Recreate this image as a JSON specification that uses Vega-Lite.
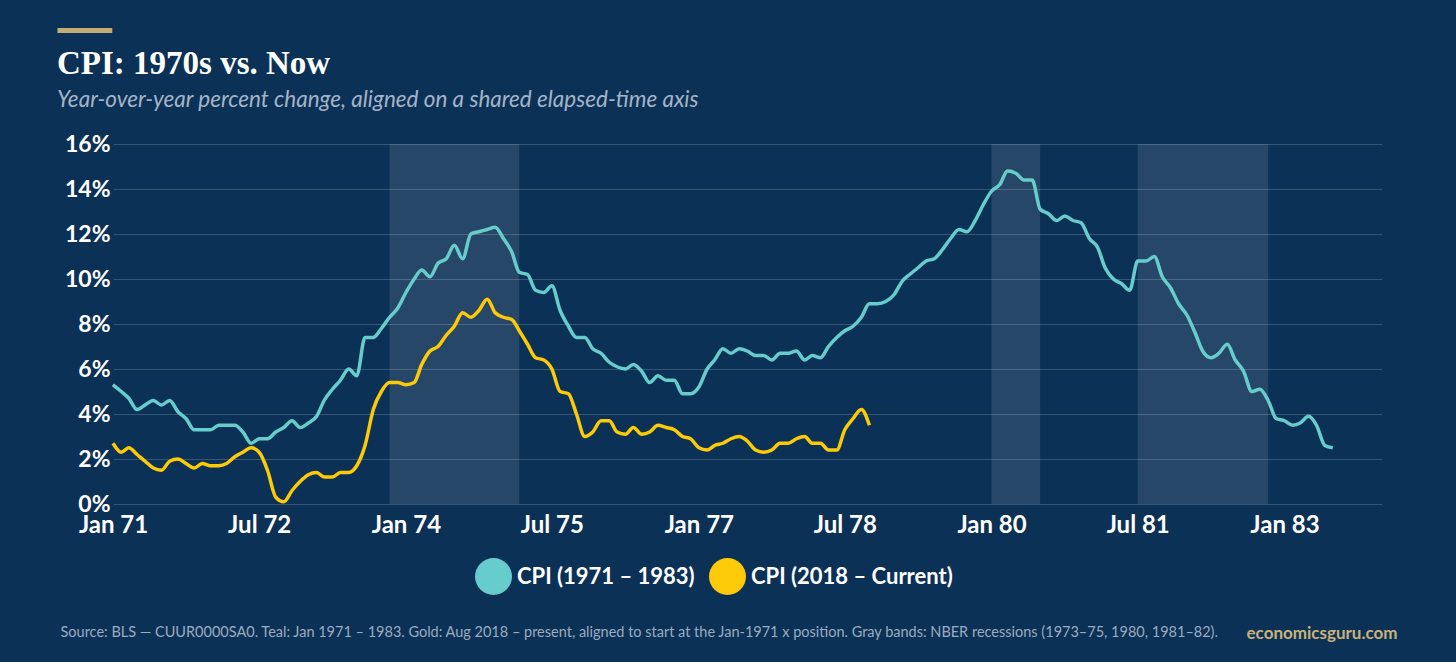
{
  "$schema": "https://vega.github.io/schema/vega-lite/v6.json",
  "description": "CPI year-over-year change, 1970s vs. 2018 onward, on a shared elapsed-time axis",
  "background": "#0c3156",
  "width": 1269,
  "height": 360,
  "autosize": {"type": "none"},
  "padding": {"left": 113, "top": 144, "right": 74, "bottom": 158},
  "title": {
    "text": "CPI: 1970s vs. Now",
    "subtitle": "Year-over-year percent change, aligned on a shared elapsed-time axis",
    "anchor": "start",
    "frame": "group",
    "dx": -56,
    "dy": 128,
    "offset": 33,
    "font": "Liberation Serif",
    "fontSize": 33,
    "fontWeight": "bold",
    "color": "#ffffff",
    "subtitleFont": "Lato",
    "subtitleFontSize": 22.5,
    "subtitleFontStyle": "italic",
    "subtitleColor": "#a3b4c8",
    "subtitlePadding": 8
  },
  "layer": [
    {
      "data": {
        "values": [
          {"start": "1973-11", "end": "1975-03"},
          {"start": "1980-01", "end": "1980-07"},
          {"start": "1981-07", "end": "1982-11"}
        ]
      },
      "mark": {"type": "rect", "color": "#ffffff", "opacity": 0.11},
      "encoding": {
        "x": {
          "field": "start",
          "type": "temporal",
          "scale": {"type": "utc", "domain": [{"year": 1971, "month": 1, "date": 1, "utc": true}, {"year": 1984, "month": 1, "date": 1, "utc": true}]},
          "axis": {
            "orient": "top",
            "labels": false,
            "ticks": false,
            "domain": false,
            "grid": false,
            "title": "economicsguru.com",
            "titleColor": "#c8b27a",
            "titleFont": "Lato",
            "titleFontSize": 17,
            "titleFontWeight": "bold",
            "titleAlign": "right",
            "titleAnchor": "end",
            "titleBaseline": "alphabetic",
            "titleX": 1284,
            "titleY": 494
          }
        },
        "x2": {"field": "end"}
      }
    },
    {
      "encoding": {
        "x": {
          "field": "month",
          "type": "temporal",
          "scale": {"type": "utc", "domain": [{"year": 1971, "month": 1, "date": 1, "utc": true}, {"year": 1984, "month": 1, "date": 1, "utc": true}]},
          "axis": {
            "values": [
              {"year": 1971, "month": 1, "date": 1, "utc": true},
              {"year": 1972, "month": 7, "date": 1, "utc": true},
              {"year": 1974, "month": 1, "date": 1, "utc": true},
              {"year": 1975, "month": 7, "date": 1, "utc": true},
              {"year": 1977, "month": 1, "date": 1, "utc": true},
              {"year": 1978, "month": 7, "date": 1, "utc": true},
              {"year": 1980, "month": 1, "date": 1, "utc": true},
              {"year": 1981, "month": 7, "date": 1, "utc": true},
              {"year": 1983, "month": 1, "date": 1, "utc": true}
            ],
            "labelExpr": "utcFormat(datum.value, '%b %y')",
            "labelFlush": false,
            "labelAlign": "center",
            "labelFont": "Lato",
            "labelFontSize": 24,
            "labelFontWeight": "bold",
            "labelColor": "#ffffff",
            "labelPadding": 9,
            "labelOverlap": false,
            "ticks": false,
            "domain": false,
            "grid": false,
            "title": "Source: BLS — CUUR0000SA0. Teal: Jan 1971 – 1983. Gold: Aug 2018 – present, aligned to start at the Jan-1971 x position. Gray bands: NBER recessions (1973–75, 1980, 1981–82).",
            "titleColor": "#9aacc0",
            "titleFont": "Lato",
            "titleFontSize": 14.5,
            "titleFontWeight": "normal",
            "titleAlign": "left",
            "titleAnchor": "start",
            "titleBaseline": "alphabetic",
            "titleX": -53,
            "titleY": 132
          }
        },
        "y": {
          "field": "cpi",
          "type": "quantitative",
          "scale": {"domain": [0, 16], "nice": false},
          "axis": {
            "values": [0, 2, 4, 6, 8, 10, 12, 14, 16],
            "labelExpr": "datum.value + '%'",
            "labelFont": "Lato",
            "labelFontSize": 23,
            "labelFontWeight": "bold",
            "labelColor": "#ffffff",
            "labelPadding": 3,
            "ticks": false,
            "domain": false,
            "grid": true,
            "gridColor": "#ffffff",
            "gridOpacity": 0.18,
            "gridWidth": 1,
            "title": "━━━",
            "titleColor": "#c4ad74",
            "titleFont": "DejaVu Sans Mono",
            "titleFontSize": 30,
            "titleFontWeight": "bold",
            "titleAngle": 0,
            "titleAlign": "left",
            "titleBaseline": "middle",
            "titleX": -56,
            "titleY": -113
          }
        }
      },
      "layer": [
        {
          "data": {
            "values": [
              {"month": "1971-01", "cpi": 5.3}, {"month": "1971-02", "cpi": 5.0}, {"month": "1971-03", "cpi": 4.7}, {"month": "1971-04", "cpi": 4.2},
              {"month": "1971-05", "cpi": 4.4}, {"month": "1971-06", "cpi": 4.6}, {"month": "1971-07", "cpi": 4.4}, {"month": "1971-08", "cpi": 4.6},
              {"month": "1971-09", "cpi": 4.1}, {"month": "1971-10", "cpi": 3.8}, {"month": "1971-11", "cpi": 3.3}, {"month": "1971-12", "cpi": 3.3},
              {"month": "1972-01", "cpi": 3.3}, {"month": "1972-02", "cpi": 3.5}, {"month": "1972-03", "cpi": 3.5}, {"month": "1972-04", "cpi": 3.5},
              {"month": "1972-05", "cpi": 3.2}, {"month": "1972-06", "cpi": 2.7}, {"month": "1972-07", "cpi": 2.9}, {"month": "1972-08", "cpi": 2.9},
              {"month": "1972-09", "cpi": 3.2}, {"month": "1972-10", "cpi": 3.4}, {"month": "1972-11", "cpi": 3.7}, {"month": "1972-12", "cpi": 3.4},
              {"month": "1973-01", "cpi": 3.6}, {"month": "1973-02", "cpi": 3.9}, {"month": "1973-03", "cpi": 4.6}, {"month": "1973-04", "cpi": 5.1},
              {"month": "1973-05", "cpi": 5.5}, {"month": "1973-06", "cpi": 6.0}, {"month": "1973-07", "cpi": 5.7}, {"month": "1973-08", "cpi": 7.4},
              {"month": "1973-09", "cpi": 7.4}, {"month": "1973-10", "cpi": 7.8}, {"month": "1973-11", "cpi": 8.3}, {"month": "1973-12", "cpi": 8.7},
              {"month": "1974-01", "cpi": 9.4}, {"month": "1974-02", "cpi": 10.0}, {"month": "1974-03", "cpi": 10.4}, {"month": "1974-04", "cpi": 10.1},
              {"month": "1974-05", "cpi": 10.7}, {"month": "1974-06", "cpi": 10.9}, {"month": "1974-07", "cpi": 11.5}, {"month": "1974-08", "cpi": 10.9},
              {"month": "1974-09", "cpi": 12.0}, {"month": "1974-10", "cpi": 12.1}, {"month": "1974-11", "cpi": 12.2}, {"month": "1974-12", "cpi": 12.3},
              {"month": "1975-01", "cpi": 11.8}, {"month": "1975-02", "cpi": 11.2}, {"month": "1975-03", "cpi": 10.3}, {"month": "1975-04", "cpi": 10.2},
              {"month": "1975-05", "cpi": 9.5}, {"month": "1975-06", "cpi": 9.4}, {"month": "1975-07", "cpi": 9.7}, {"month": "1975-08", "cpi": 8.6},
              {"month": "1975-09", "cpi": 7.9}, {"month": "1975-10", "cpi": 7.4}, {"month": "1975-11", "cpi": 7.4}, {"month": "1975-12", "cpi": 6.9},
              {"month": "1976-01", "cpi": 6.7}, {"month": "1976-02", "cpi": 6.3}, {"month": "1976-03", "cpi": 6.1}, {"month": "1976-04", "cpi": 6.0},
              {"month": "1976-05", "cpi": 6.2}, {"month": "1976-06", "cpi": 5.9}, {"month": "1976-07", "cpi": 5.4}, {"month": "1976-08", "cpi": 5.7},
              {"month": "1976-09", "cpi": 5.5}, {"month": "1976-10", "cpi": 5.5}, {"month": "1976-11", "cpi": 4.9}, {"month": "1976-12", "cpi": 4.9},
              {"month": "1977-01", "cpi": 5.2}, {"month": "1977-02", "cpi": 6.0}, {"month": "1977-03", "cpi": 6.4}, {"month": "1977-04", "cpi": 6.9},
              {"month": "1977-05", "cpi": 6.7}, {"month": "1977-06", "cpi": 6.9}, {"month": "1977-07", "cpi": 6.8}, {"month": "1977-08", "cpi": 6.6},
              {"month": "1977-09", "cpi": 6.6}, {"month": "1977-10", "cpi": 6.4}, {"month": "1977-11", "cpi": 6.7}, {"month": "1977-12", "cpi": 6.7},
              {"month": "1978-01", "cpi": 6.8}, {"month": "1978-02", "cpi": 6.4}, {"month": "1978-03", "cpi": 6.6}, {"month": "1978-04", "cpi": 6.5},
              {"month": "1978-05", "cpi": 7.0}, {"month": "1978-06", "cpi": 7.4}, {"month": "1978-07", "cpi": 7.7}, {"month": "1978-08", "cpi": 7.9},
              {"month": "1978-09", "cpi": 8.3}, {"month": "1978-10", "cpi": 8.9}, {"month": "1978-11", "cpi": 8.9}, {"month": "1978-12", "cpi": 9.0},
              {"month": "1979-01", "cpi": 9.3}, {"month": "1979-02", "cpi": 9.9}, {"month": "1979-03", "cpi": 10.2}, {"month": "1979-04", "cpi": 10.5},
              {"month": "1979-05", "cpi": 10.8}, {"month": "1979-06", "cpi": 10.9}, {"month": "1979-07", "cpi": 11.3}, {"month": "1979-08", "cpi": 11.8},
              {"month": "1979-09", "cpi": 12.2}, {"month": "1979-10", "cpi": 12.1}, {"month": "1979-11", "cpi": 12.6}, {"month": "1979-12", "cpi": 13.3},
              {"month": "1980-01", "cpi": 13.9}, {"month": "1980-02", "cpi": 14.2}, {"month": "1980-03", "cpi": 14.8}, {"month": "1980-04", "cpi": 14.7},
              {"month": "1980-05", "cpi": 14.4}, {"month": "1980-06", "cpi": 14.4}, {"month": "1980-07", "cpi": 13.1}, {"month": "1980-08", "cpi": 12.9},
              {"month": "1980-09", "cpi": 12.6}, {"month": "1980-10", "cpi": 12.8}, {"month": "1980-11", "cpi": 12.6}, {"month": "1980-12", "cpi": 12.5},
              {"month": "1981-01", "cpi": 11.8}, {"month": "1981-02", "cpi": 11.4}, {"month": "1981-03", "cpi": 10.5}, {"month": "1981-04", "cpi": 10.0},
              {"month": "1981-05", "cpi": 9.8}, {"month": "1981-06", "cpi": 9.5}, {"month": "1981-07", "cpi": 10.8}, {"month": "1981-08", "cpi": 10.8},
              {"month": "1981-09", "cpi": 11.0}, {"month": "1981-10", "cpi": 10.1}, {"month": "1981-11", "cpi": 9.6}, {"month": "1981-12", "cpi": 8.9},
              {"month": "1982-01", "cpi": 8.4}, {"month": "1982-02", "cpi": 7.6}, {"month": "1982-03", "cpi": 6.8}, {"month": "1982-04", "cpi": 6.5},
              {"month": "1982-05", "cpi": 6.7}, {"month": "1982-06", "cpi": 7.1}, {"month": "1982-07", "cpi": 6.4}, {"month": "1982-08", "cpi": 5.9},
              {"month": "1982-09", "cpi": 5.0}, {"month": "1982-10", "cpi": 5.1}, {"month": "1982-11", "cpi": 4.6}, {"month": "1982-12", "cpi": 3.8},
              {"month": "1983-01", "cpi": 3.7}, {"month": "1983-02", "cpi": 3.5}, {"month": "1983-03", "cpi": 3.6}, {"month": "1983-04", "cpi": 3.9},
              {"month": "1983-05", "cpi": 3.5}, {"month": "1983-06", "cpi": 2.6}, {"month": "1983-07", "cpi": 2.5}
            ]
          },
          "mark": {"type": "line", "strokeWidth": 3.5, "interpolate": "monotone"},
          "encoding": {
            "color": {
              "datum": "CPI (1971 – 1983)",
              "scale": {"domain": ["CPI (1971 – 1983)", "CPI (2018 – Current)"], "range": ["#66cccc", "#fcca08"]},
              "legend": {
                "title": null,
                "orient": "none",
                "direction": "horizontal",
                "legendX": 362,
                "legendY": 414,
                "symbolType": "circle",
                "symbolSize": 1369,
                "symbolStrokeWidth": 0,
                "symbolOpacity": 1,
                "labelFont": "Lato",
                "labelFontSize": 22,
                "labelFontWeight": "bold",
                "labelColor": "#ffffff",
                "labelOffset": 5,
                "columnPadding": 14,
                "labelLimit": 400,
                "encode": {
                  "symbols": {
                    "update": {
                      "fill": {"scale": "color", "field": "value"},
                      "strokeWidth": {"value": 0},
                      "opacity": {"value": 1}
                    }
                  }
                }
              }
            }
          }
        },
        {
          "data": {
            "values": [
              {"month": "1971-01", "cpi": 2.7}, {"month": "1971-02", "cpi": 2.3}, {"month": "1971-03", "cpi": 2.5}, {"month": "1971-04", "cpi": 2.2},
              {"month": "1971-05", "cpi": 1.9}, {"month": "1971-06", "cpi": 1.6}, {"month": "1971-07", "cpi": 1.5}, {"month": "1971-08", "cpi": 1.9},
              {"month": "1971-09", "cpi": 2.0}, {"month": "1971-10", "cpi": 1.8}, {"month": "1971-11", "cpi": 1.6}, {"month": "1971-12", "cpi": 1.8},
              {"month": "1972-01", "cpi": 1.7}, {"month": "1972-02", "cpi": 1.7}, {"month": "1972-03", "cpi": 1.8}, {"month": "1972-04", "cpi": 2.1},
              {"month": "1972-05", "cpi": 2.3}, {"month": "1972-06", "cpi": 2.5}, {"month": "1972-07", "cpi": 2.3}, {"month": "1972-08", "cpi": 1.5},
              {"month": "1972-09", "cpi": 0.3}, {"month": "1972-10", "cpi": 0.1}, {"month": "1972-11", "cpi": 0.6}, {"month": "1972-12", "cpi": 1.0},
              {"month": "1973-01", "cpi": 1.3}, {"month": "1973-02", "cpi": 1.4}, {"month": "1973-03", "cpi": 1.2}, {"month": "1973-04", "cpi": 1.2},
              {"month": "1973-05", "cpi": 1.4}, {"month": "1973-06", "cpi": 1.4}, {"month": "1973-07", "cpi": 1.7}, {"month": "1973-08", "cpi": 2.6},
              {"month": "1973-09", "cpi": 4.2}, {"month": "1973-10", "cpi": 5.0}, {"month": "1973-11", "cpi": 5.4}, {"month": "1973-12", "cpi": 5.4},
              {"month": "1974-01", "cpi": 5.3}, {"month": "1974-02", "cpi": 5.4}, {"month": "1974-03", "cpi": 6.2}, {"month": "1974-04", "cpi": 6.8},
              {"month": "1974-05", "cpi": 7.0}, {"month": "1974-06", "cpi": 7.5}, {"month": "1974-07", "cpi": 7.9}, {"month": "1974-08", "cpi": 8.5},
              {"month": "1974-09", "cpi": 8.3}, {"month": "1974-10", "cpi": 8.6}, {"month": "1974-11", "cpi": 9.1}, {"month": "1974-12", "cpi": 8.5},
              {"month": "1975-01", "cpi": 8.3}, {"month": "1975-02", "cpi": 8.2}, {"month": "1975-03", "cpi": 7.7}, {"month": "1975-04", "cpi": 7.1},
              {"month": "1975-05", "cpi": 6.5}, {"month": "1975-06", "cpi": 6.4}, {"month": "1975-07", "cpi": 6.0}, {"month": "1975-08", "cpi": 5.0},
              {"month": "1975-09", "cpi": 4.9}, {"month": "1975-10", "cpi": 4.0}, {"month": "1975-11", "cpi": 3.0}, {"month": "1975-12", "cpi": 3.2},
              {"month": "1976-01", "cpi": 3.7}, {"month": "1976-02", "cpi": 3.7}, {"month": "1976-03", "cpi": 3.2}, {"month": "1976-04", "cpi": 3.1},
              {"month": "1976-05", "cpi": 3.4}, {"month": "1976-06", "cpi": 3.1}, {"month": "1976-07", "cpi": 3.2}, {"month": "1976-08", "cpi": 3.5},
              {"month": "1976-09", "cpi": 3.4}, {"month": "1976-10", "cpi": 3.3}, {"month": "1976-11", "cpi": 3.0}, {"month": "1976-12", "cpi": 2.9},
              {"month": "1977-01", "cpi": 2.5}, {"month": "1977-02", "cpi": 2.4}, {"month": "1977-03", "cpi": 2.6}, {"month": "1977-04", "cpi": 2.7},
              {"month": "1977-05", "cpi": 2.9}, {"month": "1977-06", "cpi": 3.0}, {"month": "1977-07", "cpi": 2.8}, {"month": "1977-08", "cpi": 2.4},
              {"month": "1977-09", "cpi": 2.3}, {"month": "1977-10", "cpi": 2.4}, {"month": "1977-11", "cpi": 2.7}, {"month": "1977-12", "cpi": 2.7},
              {"month": "1978-01", "cpi": 2.9}, {"month": "1978-02", "cpi": 3.0}, {"month": "1978-03", "cpi": 2.7}, {"month": "1978-04", "cpi": 2.7},
              {"month": "1978-05", "cpi": 2.4}, {"month": "1978-06", "cpi": 2.4}, {"month": "1978-07", "cpi": 3.3}, {"month": "1978-08", "cpi": 3.8},
              {"month": "1978-09", "cpi": 4.2}, {"month": "1978-10", "cpi": 3.5}
            ]
          },
          "mark": {"type": "line", "strokeWidth": 3.5, "interpolate": "monotone"},
          "encoding": {
            "color": {"datum": "CPI (2018 – Current)"}
          }
        }
      ]
    }
  ],
  "resolve": {"axis": {"x": "independent"}},
  "config": {
    "view": {"stroke": null},
    "font": "Lato"
  }
}
